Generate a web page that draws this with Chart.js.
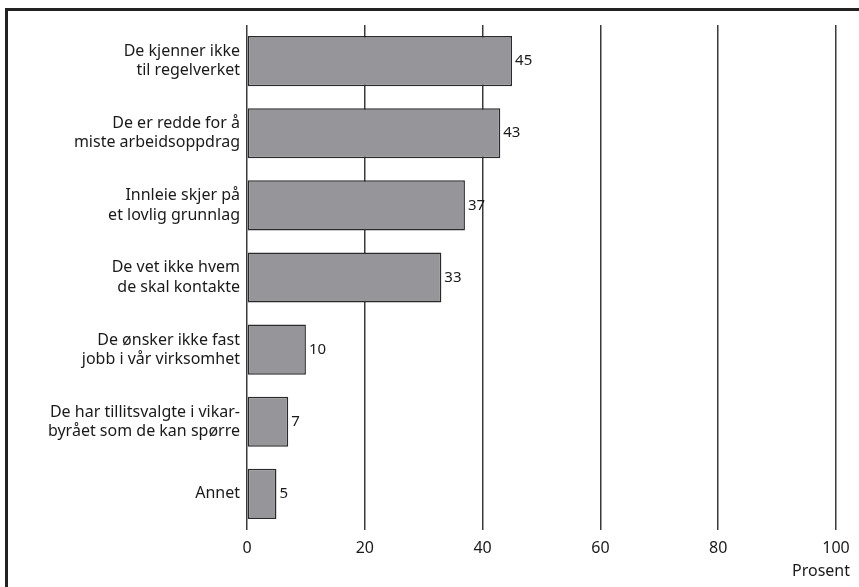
<!DOCTYPE html>
<html>
<head>
<meta charset="utf-8">
<script src="https://cdn.jsdelivr.net/npm/chart.js@4"></script>
<style>
  html, body { margin: 0; padding: 0; background: #fff; }
  #wrap { position: relative; width: 859px; height: 587px; overflow: hidden; }
  #frame { position: absolute; left: 5px; top: 8px; width: 900px; height: 700px;
           border-top: 3px solid #222; border-left: 3px solid #222; }
  #chart { position: absolute; left: 0; top: 0; }
</style>
</head>
<body>
<div id="wrap">
  <div id="frame"></div>
  <canvas id="chart" width="859" height="587"></canvas>
</div>
<script>
const categories = [
  ['De kjenner ikke', 'til regelverket'],
  ['De er redde for å', 'miste arbeidsoppdrag'],
  ['Innleie skjer på', 'et lovlig grunnlag'],
  ['De vet ikke hvem', 'de skal kontakte'],
  ['De ønsker ikke fast', 'jobb i vår virksomhet'],
  ['De har tillitsvalgte i vikar-', 'byrået som de kan spørre'],
  ['Annet'],
];
const values = [45, 43, 37, 33, 10, 7, 5];
const xTicks = [0, 20, 40, 60, 80, 100];
const unitLabel = 'Prosent';

const FONT = '"Noto Sans", sans-serif';
const INK = '#1a1a1a';

// number printed just right of each bar end
const valueLabels = {
  id: 'valueLabels',
  afterDatasetsDraw(chart) {
    const ctx = chart.ctx;
    const meta = chart.getDatasetMeta(0);
    ctx.save();
    ctx.font = '15px ' + FONT;
    ctx.fillStyle = INK;
    ctx.textAlign = 'left';
    ctx.textBaseline = 'middle';
    meta.data.forEach((bar, i) => {
      ctx.fillText(String(values[i]), bar.x + 3, bar.y);
    });
    ctx.restore();
  }
};

// unit text under the last tick
const unitText = {
  id: 'unitText',
  afterDraw(chart) {
    const ctx = chart.ctx;
    ctx.save();
    ctx.font = '16px ' + FONT;
    ctx.fillStyle = INK;
    ctx.textAlign = 'right';
    ctx.textBaseline = 'middle';
    ctx.fillText(unitLabel, chart.chartArea.right + 14, 571);
    ctx.restore();
  }
};

new Chart(document.getElementById('chart'), {
  type: 'bar',
  data: {
    labels: categories,
    datasets: [{
      data: values,
      backgroundColor: '#96969a',
      borderColor: '#2a2a2a',
      borderWidth: 1.5,
      borderSkipped: false,
      barPercentage: 0.695,
      categoryPercentage: 1,
    }]
  },
  options: {
    indexAxis: 'y',
    responsive: false,
    animation: false,
    layout: { padding: { top: 25, right: 23, left: 0, bottom: 0 } },
    plugins: { legend: { display: false }, tooltip: { enabled: false } },
    scales: {
      x: {
        min: 0, max: 100,
        afterBuildTicks: (s) => { s.ticks = xTicks.map(v => ({ value: v })); },
        afterFit: (s) => { s.height = 57; },
        grid: { color: '#3a3a3a', lineWidth: 1.5, drawTicks: false },
        border: { display: false },
        ticks: { padding: 9, color: INK, font: { family: FONT, size: 16 } },
      },
      y: {
        afterFit: (s) => { s.width = 247; },
        grid: { display: false, drawTicks: false },
        border: { display: false },
        ticks: { padding: 7, color: INK, font: { family: FONT, size: 16, lineHeight: 1.2 } },
      }
    }
  },
  plugins: [valueLabels, unitText]
});
</script>
</body>
</html>
